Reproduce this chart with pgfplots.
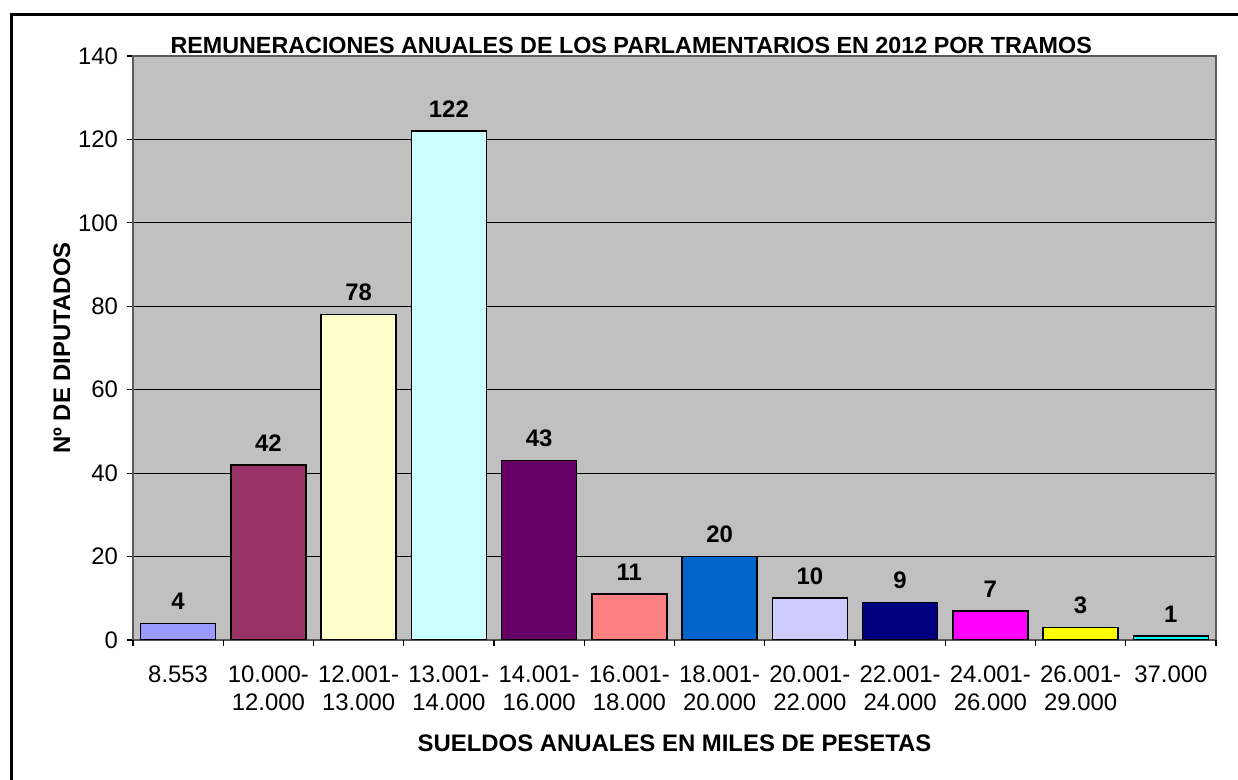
\documentclass[border=0pt]{standalone}
\usepackage{pgfplots}
\pgfplotsset{compat=1.18}
\usepackage{fontspec}
\setmainfont{Liberation Sans}
\definecolor{bgray}{HTML}{C0C0C0}
\definecolor{c1}{HTML}{9999FF}
\definecolor{c2}{HTML}{993366}
\definecolor{c3}{HTML}{FFFFCC}
\definecolor{c4}{HTML}{CCFFFF}
\definecolor{c5}{HTML}{660066}
\definecolor{c6}{HTML}{FF8080}
\definecolor{c7}{HTML}{0066CC}
\definecolor{c8}{HTML}{CCCCFF}
\definecolor{c9}{HTML}{000080}
\definecolor{c10}{HTML}{FF00FF}
\definecolor{c11}{HTML}{FFFF00}
\definecolor{c12}{HTML}{00FFFF}
\begin{document}
\begin{tikzpicture}
\useasboundingbox (0,0) rectangle (619bp,390bp);
\draw[line width=1.5bp] (5.5bp,-5bp) -- (5.5bp,382.5bp) -- (630bp,382.5bp);
\begin{axis}[
  scale only axis, width=541.5bp, height=292bp,
  at={(66.5bp,70bp)}, anchor=south west,
  xmin=-0.5, xmax=11.5, ymin=0, ymax=140,
  ytick={0,20,...,140},
  ymajorgrids, grid style={black, line width=0.5pt},
  axis background/.style={fill=bgray},
  axis line style={draw=gray!70!black, line width=0.8pt},
  tick align=outside, xtick pos=left, ytick pos=left,
  ytick style={black, line width=0.6pt}, major tick length=3bp,
  xtick={0,...,11},
  xticklabels={8.553,{10.000-\\12.000},{12.001-\\13.000},{13.001-\\14.000},{14.001-\\16.000},{16.001-\\18.000},{18.001-\\20.000},{20.001-\\22.000},{22.001-\\24.000},{24.001-\\26.000},{26.001-\\29.000},37.000},
  xticklabel style={align=center, font=\fontsize{12}{13.8}\selectfont, yshift=-6.5bp},
  yticklabel style={font=\fontsize{12}{13}\selectfont, xshift=-1bp},
  /pgf/number format/assume math mode=true,
  x tick style={draw=none},
  extra x ticks={-0.5,0.5,...,11.5}, extra x tick labels={},
  extra x tick style={x tick style={draw=black, line width=0.6pt}},
  ybar, bar width=37.5bp, bar shift=0pt,
  every axis plot/.append style={draw=black, line width=0.8pt},
  nodes near coords,
  every node near coord/.append style={font=\bfseries\fontsize{12}{14}\selectfont, yshift=3bp, black},
  ylabel={Nº DE DIPUTADOS},
  every axis y label/.style={at={(rel axis cs:0,0.5)}, xshift=-35.5bp, rotate=90, anchor=center, font=\bfseries\fontsize{12}{14}\selectfont},
  xlabel={SUELDOS ANUALES EN MILES DE PESETAS},
  every axis x label/.style={at={(rel axis cs:0.5,0)}, yshift=-51.5bp, anchor=center, font=\bfseries\fontsize{12}{14}\selectfont},
  title={REMUNERACIONES ANUALES DE LOS PARLAMENTARIOS EN 2012 POR TRAMOS},
  every axis title/.style={at={(rel axis cs:0.46,1)}, yshift=5.5bp, anchor=center, font=\bfseries\fontsize{11.7}{14}\selectfont},
]
\addplot[fill=c1] coordinates {(0,4)};
\addplot[fill=c2] coordinates {(1,42)};
\addplot[fill=c3] coordinates {(2,78)};
\addplot[fill=c4] coordinates {(3,122)};
\addplot[fill=c5] coordinates {(4,43)};
\addplot[fill=c6] coordinates {(5,11)};
\addplot[fill=c7] coordinates {(6,20)};
\addplot[fill=c8] coordinates {(7,10)};
\addplot[fill=c9] coordinates {(8,9)};
\addplot[fill=c10] coordinates {(9,7)};
\addplot[fill=c11] coordinates {(10,3)};
\addplot[fill=c12] coordinates {(11,1)};
\end{axis}
\end{tikzpicture}
\end{document}
